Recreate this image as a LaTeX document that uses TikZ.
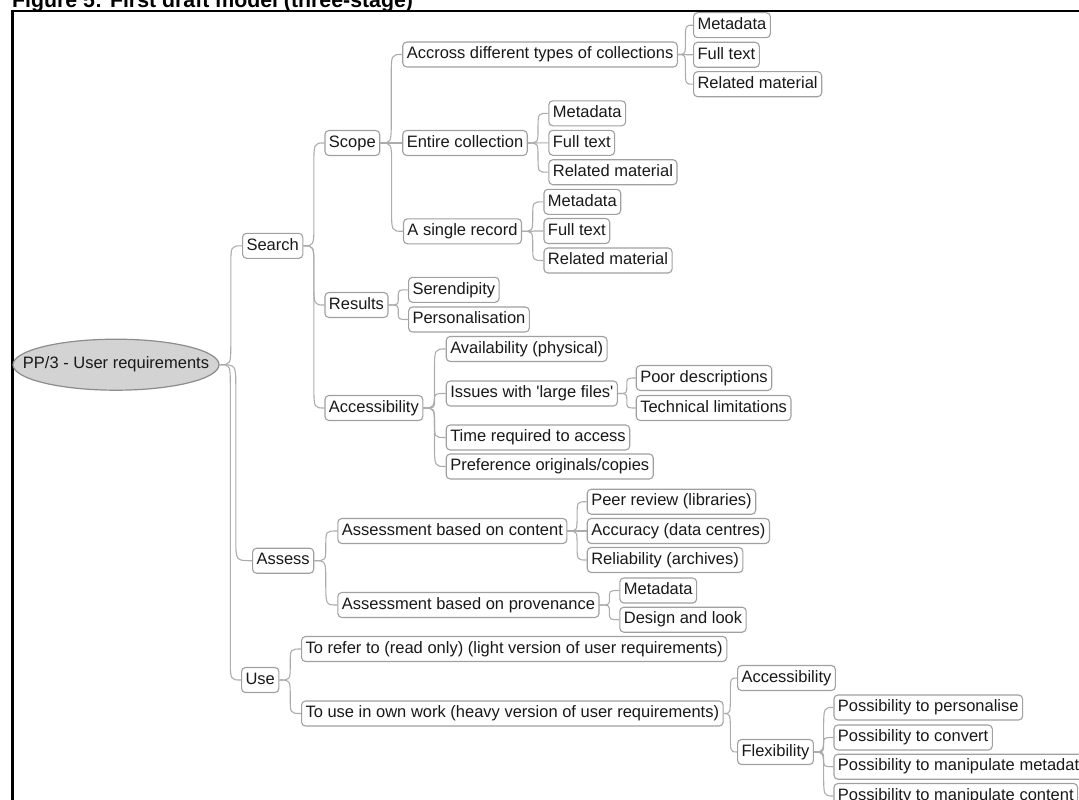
\documentclass[tikz,border=0pt]{standalone}
\usepackage{fontspec}
\setmainfont{Liberation Sans}
\usetikzlibrary{calc,shapes.geometric}
\definecolor{boxgray}{RGB}{160,160,160}
\definecolor{linegray}{RGB}{172,172,172}
\definecolor{ellfill}{RGB}{211,211,211}
\definecolor{ellgray}{RGB}{140,140,140}
\definecolor{txt}{RGB}{25,25,25}
\newcommand\mmconn[2]{%
  \draw[conn] let \p1=(#1.east), \p2=(#2.west),
    \n1={(\x1+\x2)/2},
    \n2={min(abs(\y2-\y1)/2,22pt)*sign(\y2-\y1)} in
    (\p1) .. controls (\n1,\y1) .. (\n1,\y1+\n2) -- (\n1,\y2-\n2)
    .. controls (\n1,\y2) .. (\p2);}
\begin{document}
\begin{tikzpicture}[x=1pt,y=-1pt,
  box/.style={draw=boxgray, line width=1.1pt, rounded corners=4pt, fill=white,
    text=txt, font=\fontsize{16.5}{18}\selectfont, inner xsep=4pt, inner ysep=0pt,
    text height=12pt, text depth=3.5pt, minimum height=25pt, anchor=west},
  conn/.style={draw=linegray, line width=1.1pt},
  rootnode/.style={ellipse, draw=ellgray, fill=ellfill, line width=1.2pt,
    inner xsep=-30pt, inner ysep=0pt, minimum width=206pt, minimum height=51pt,
    text=txt, text height=12pt, text depth=3.5pt,
    font=\fontsize{16.5}{18}\selectfont},
  titlenode/.style={anchor=base west, inner sep=0pt,
    font=\bfseries\fontsize{21.3}{24}\selectfont}]
\useasboundingbox (0,0) rectangle (1079,800);
\clip (0,0) rectangle (1079,800);

\node[titlenode] (title) at (12,7.3) {Figure 5: First draft model (three-stage)};
\draw[line width=2.4pt] (12.6,801) -- (12.6,11.2) -- (1080,11.2);

\node[rootnode] (root) at (116,364.7) {PP/3 - User requirements};

\node[box] (search) at (242,245.8) {Search};
\node[box] (assess) at (252,560.7) {Assess};
\node[box] (use) at (241,680) {Use};

\node[box] (scope) at (324.4,143) {Scope};
\node[box] (results) at (324.4,305) {Results};
\node[box] (access) at (324.4,408) {Accessibility};

\node[box] (across) at (402.2,54.5) {Accross different types of collections};
\node[box] (entire) at (402.2,143) {Entire collection};
\node[box] (single) at (402.9,231.3) {A single record};

\node[box] (a1) at (693,25.2) {Metadata};
\node[box] (a2) at (693,54.8) {Full text};
\node[box] (a3) at (693,84.2) {Related material};
\node[box] (e1) at (548.3,113.3) {Metadata};
\node[box] (e2) at (548.3,142.8) {Full text};
\node[box] (e3) at (548.3,172.2) {Related material};
\node[box] (s1) at (543.4,201.8) {Metadata};
\node[box] (s2) at (543.4,231) {Full text};
\node[box] (s3) at (543.4,260.5) {Related material};

\node[box] (seren) at (408,289.8) {Serendipity};
\node[box] (pers) at (408,319.5) {Personalisation};

\node[box] (avail) at (445.7,349) {Availability (physical)};
\node[box] (issues) at (445.7,393.5) {Issues with \textquotesingle large files\textquotesingle};
\node[box] (time) at (445.7,437.5) {Time required to access};
\node[box] (pref) at (445.7,466.5) {Preference originals/copies};
\node[box] (poor) at (635.7,378) {Poor descriptions};
\node[box] (tech) at (635.7,408) {Technical limitations};

\node[box] (content) at (337.3,531) {Assessment based on content};
\node[box] (prov) at (337.3,605) {Assessment based on provenance};
\node[box] (peer) at (586.7,501.7) {Peer review (libraries)};
\node[box] (accur) at (586.7,531) {Accuracy (data centres)};
\node[box] (rel) at (586.7,560) {Reliability (archives)};
\node[box] (pm) at (619.3,590.5) {Metadata};
\node[box] (design) at (619.3,619.7) {Design and look};

\node[box] (refer) at (301,649) {To refer to (read only) (light version of user requirements)};
\node[box] (usework) at (301,713.5) {To use in own work (heavy version of user requirements)};
\node[box] (uacc) at (737,678) {Accessibility};
\node[box] (flex) at (737,752) {Flexibility};
\node[box] (p1) at (833.4,707.5) {Possibility to personalise};
\node[box] (p2) at (833.4,737.5) {Possibility to convert};
\node[box] (p3) at (833.4,766.7) {Possibility to manipulate metadata};
\node[box] (p4) at (833.4,796) {Possibility to manipulate content};

\mmconn{root}{search}
\mmconn{root}{assess}
\mmconn{root}{use}
\mmconn{search}{scope}
\mmconn{search}{results}
\mmconn{search}{access}
\mmconn{scope}{across}
\mmconn{scope}{entire}
\mmconn{scope}{single}
\mmconn{across}{a1}
\mmconn{across}{a2}
\mmconn{across}{a3}
\mmconn{entire}{e1}
\mmconn{entire}{e2}
\mmconn{entire}{e3}
\mmconn{single}{s1}
\mmconn{single}{s2}
\mmconn{single}{s3}
\mmconn{results}{seren}
\mmconn{results}{pers}
\mmconn{access}{avail}
\mmconn{access}{issues}
\mmconn{access}{time}
\mmconn{access}{pref}
\mmconn{issues}{poor}
\mmconn{issues}{tech}
\mmconn{assess}{content}
\mmconn{assess}{prov}
\mmconn{content}{peer}
\mmconn{content}{accur}
\mmconn{content}{rel}
\mmconn{prov}{pm}
\mmconn{prov}{design}
\mmconn{use}{refer}
\mmconn{use}{usework}
\mmconn{usework}{uacc}
\mmconn{usework}{flex}
\mmconn{flex}{p1}
\mmconn{flex}{p2}
\mmconn{flex}{p3}
\mmconn{flex}{p4}
\end{tikzpicture}
\end{document}
